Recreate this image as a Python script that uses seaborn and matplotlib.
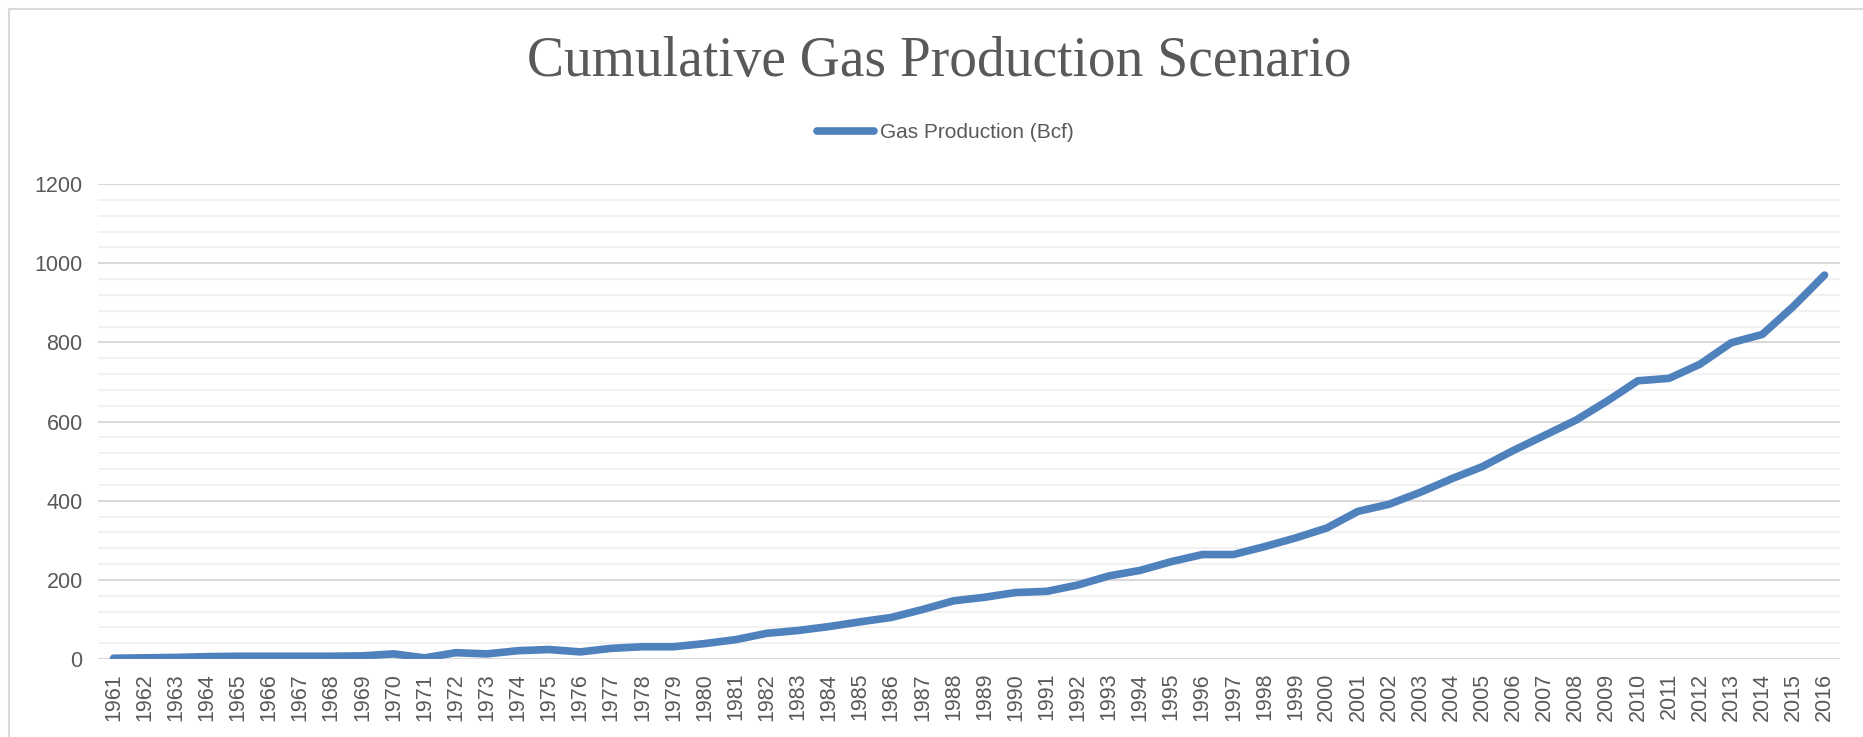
import numpy as np
import pandas as pd
import matplotlib
matplotlib.use('Agg')
import matplotlib.pyplot as plt
from matplotlib.patches import Rectangle
from matplotlib.ticker import MultipleLocator
import seaborn as sns

years = list(range(1961, 2017))
gas_bcf = [2, 3, 4, 6, 7, 7, 7, 7, 8, 13,
           3, 16, 13, 21, 24, 18, 27, 31, 31, 39,
           49, 65, 72, 82, 94, 105, 125, 147, 156, 168,
           171, 187, 210, 224, 246, 264, 264, 284, 306, 331,
           373, 391, 421, 455, 486, 527, 565, 603, 651, 703,
           709, 745, 799, 820, 891, 970]
series_name = 'Gas Production (Bcf)'
chart_title = 'Cumulative Gas Production Scenario'

df = pd.DataFrame({'year': [str(y) for y in years], 'value': gas_bcf})

sns.set_style('white')
plt.rcParams['font.family'] = ['Liberation Sans', 'DejaVu Sans']

LINE = '#4F81BD'
TEXT = '#595959'
MAJOR = '#D9D9D9'
MINOR = '#F2F2F2'

fig = plt.figure(figsize=(18.63, 7.37), dpi=100)
ax = fig.add_axes([0.0526, 0.1058, 0.9351, 0.6445])

sns.lineplot(data=df, x='year', y='value', ax=ax, color=LINE, linewidth=5.5,
             label=series_name, sort=False)
for ln in ax.get_lines():
    ln.set_solid_capstyle('round')
    ln.set_solid_joinstyle('round')

ax.set_xlim(-0.5, len(years) - 0.5)
ax.set_ylim(0, 1200)
ax.yaxis.set_major_locator(MultipleLocator(200))
ax.yaxis.set_minor_locator(MultipleLocator(40))
ax.grid(which='major', axis='y', color=MAJOR, linewidth=1.5, zorder=0)
ax.grid(which='minor', axis='y', color=MINOR, linewidth=1.5, zorder=0)
ax.grid(which='major', axis='x', visible=False)
ax.set_axisbelow(True)
for s in ax.spines.values():
    s.set_visible(False)
ax.set_xlabel('')
ax.set_ylabel('')
ax.tick_params(axis='both', which='both', length=0, colors=TEXT, labelsize=15.5)
ax.tick_params(axis='y', pad=11)
ax.tick_params(axis='x', pad=10)
plt.setp(ax.get_xticklabels(), rotation=90)

ax.legend(loc='center', bbox_to_anchor=(0.5 + 14 / 1863, 1 - 133 / 737),
          bbox_transform=fig.transFigure, frameon=False, fontsize=15,
          labelcolor=TEXT, handlelength=2.7, handletextpad=0.3)

fig.text(0.5 + 8 / 1863, 1 - 62 / 737, chart_title, ha='center', va='center',
         fontsize=40, color=TEXT, family=['Liberation Serif', 'DejaVu Serif'])

fig.patches.append(Rectangle((9 / 1863, -0.1), 1.2, 0.1 + 1 - 9 / 737,
                             transform=fig.transFigure, fill=False,
                             edgecolor=MAJOR, linewidth=1.5))

fig.savefig('out.png', dpi=100, facecolor='white')
